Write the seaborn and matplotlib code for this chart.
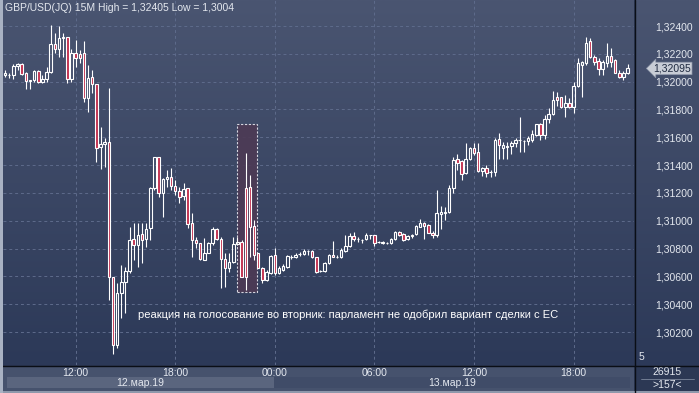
import numpy as np
import pandas as pd
import matplotlib
matplotlib.use('Agg')
import matplotlib.pyplot as plt
from matplotlib import ticker, colors, patches, lines, transforms
import seaborn as sns

title = 'GBP/USD(JQ) 15M High = 1,32405 Low = 1,3004'
note = 'реакция на голосование во вторник: парламент не одобрил вариант сделки с ЕС'
start_time = '2019-03-12 07:45'
tick_hours = [0, 6, 12, 18]
day_labels = ['12.мар.19', '13.мар.19']
price_ticks = [1.302, 1.304, 1.306, 1.308, 1.310, 1.312, 1.314, 1.316, 1.318, 1.320, 1.322, 1.324]
last_price = 1.32095
volume_text = '26915'
bars_text = '>157<'
corner_text = '5'
# vote reaction box: candle span and price span
box_candles = (55.9, 60.7)
box_prices = (1.30488, 1.31695)
note_pos = (32, 1.30322)

opens = [1.32048, 1.32048, 1.32048, 1.32113, 1.32127, 1.32062, 1.32005, 1.32012, 1.32077, 1.31997,
         1.32019, 1.32069, 1.32271, 1.32235, 1.32314, 1.32321, 1.32019, 1.32206, 1.32199, 1.32206,
         1.31882, 1.32033, 1.31983, 1.31530, 1.31552, 1.31566, 1.30595, 1.30106, 1.30480, 1.30559,
         1.30638, 1.30869, 1.30825, 1.30905, 1.30869, 1.30948, 1.31235, 1.31458, 1.31199, 1.31300,
         1.31314, 1.31250, 1.31214, 1.31178, 1.31235, 1.30984, 1.30861, 1.30840, 1.30718, 1.30768,
         1.30840, 1.30940, 1.30869, 1.30725, 1.30660, 1.30703, 1.30833, 1.30847, 1.31235, 1.31243,
         1.30962, 1.30768, 1.30660, 1.30574, 1.30624, 1.30754, 1.30624, 1.30646, 1.30667, 1.30739,
         1.30739, 1.30761, 1.30761, 1.30782, 1.30782, 1.30739, 1.30638, 1.30638, 1.30696, 1.30754,
         1.30739, 1.30739, 1.30782, 1.30818, 1.30890, 1.30869, 1.30861, 1.30869, 1.30897, 1.30897,
         1.30847, 1.30840, 1.30840, 1.30840, 1.30869, 1.30919, 1.30905, 1.30869, 1.30890, 1.30905,
         1.30955, 1.30984, 1.30969, 1.30912, 1.30897, 1.31048, 1.31056, 1.31063, 1.31235, 1.31444,
         1.31429, 1.31343, 1.31444, 1.31523, 1.31494, 1.31358, 1.31379, 1.31350, 1.31350, 1.31588,
         1.31523, 1.31530, 1.31537, 1.31559, 1.31580, 1.31573, 1.31573, 1.31580, 1.31616, 1.31695,
         1.31616, 1.31731, 1.31767, 1.31890, 1.31890, 1.31818, 1.31846, 1.31818, 1.31969, 1.32120,
         1.32134, 1.32292, 1.32177, 1.32148, 1.32091, 1.32134, 1.32184, 1.32156, 1.32062, 1.32033, 1.32062]

highs = [1.32084, 1.32062, 1.32127, 1.32134, 1.32134, 1.32069, 1.32012, 1.32084, 1.32084, 1.32048,
         1.32105, 1.32405, 1.32350, 1.32400, 1.32350, 1.32321, 1.32235, 1.32299, 1.32228, 1.32292,
         1.32120, 1.32084, 1.31983, 1.31674, 1.31595, 1.31954, 1.30595, 1.30552, 1.30682, 1.30667,
         1.30955, 1.30984, 1.30984, 1.30984, 1.30984, 1.31243, 1.31458, 1.31458, 1.31307, 1.31365,
         1.31379, 1.31293, 1.31243, 1.31271, 1.31235, 1.31056, 1.30883, 1.30840, 1.30876, 1.30847,
         1.30955, 1.30948, 1.30883, 1.30768, 1.30768, 1.30883, 1.30883, 1.30861, 1.31487, 1.31329,
         1.31005, 1.30768, 1.30667, 1.30646, 1.30754, 1.30804, 1.30675, 1.30689, 1.30754, 1.30754,
         1.30768, 1.30775, 1.30797, 1.30790, 1.30790, 1.30739, 1.30646, 1.30703, 1.30761, 1.30854,
         1.30754, 1.30804, 1.30897, 1.30912, 1.30919, 1.30883, 1.30869, 1.30912, 1.30897, 1.30897,
         1.30854, 1.30854, 1.30847, 1.30876, 1.30926, 1.30926, 1.30912, 1.30897, 1.30905, 1.30969,
         1.31012, 1.30991, 1.30976, 1.30926, 1.31221, 1.31106, 1.31099, 1.31257, 1.31458, 1.31480,
         1.31437, 1.31559, 1.31530, 1.31559, 1.31559, 1.31386, 1.31401, 1.31365, 1.31595, 1.31631,
         1.31566, 1.31566, 1.31573, 1.31595, 1.31746, 1.31580, 1.31609, 1.31652, 1.31695, 1.31703,
         1.31760, 1.31810, 1.31933, 1.31926, 1.31890, 1.31904, 1.31882, 1.31997, 1.32170, 1.32148,
         1.32321, 1.32314, 1.32192, 1.32170, 1.32156, 1.32278, 1.32242, 1.32163, 1.32084, 1.32077, 1.32127]

lows = [1.32033, 1.32026, 1.32019, 1.32084, 1.32048, 1.31947, 1.31947, 1.31997, 1.31990, 1.31990,
        1.31997, 1.32062, 1.32206, 1.32177, 1.32177, 1.31990, 1.31997, 1.32105, 1.32134, 1.31854,
        1.31782, 1.31918, 1.31422, 1.31372, 1.31386, 1.30430, 1.30040, 1.30085, 1.30301, 1.30337,
        1.30624, 1.30718, 1.30667, 1.30696, 1.30811, 1.30861, 1.31221, 1.31171, 1.31027, 1.31243,
        1.31221, 1.31185, 1.31127, 1.31149, 1.30948, 1.30739, 1.30804, 1.30718, 1.30718, 1.30768,
        1.30825, 1.30861, 1.30516, 1.30524, 1.30631, 1.30696, 1.30825, 1.30595, 1.30502, 1.30739,
        1.30718, 1.30660, 1.30552, 1.30567, 1.30617, 1.30610, 1.30617, 1.30638, 1.30660, 1.30725,
        1.30732, 1.30746, 1.30754, 1.30754, 1.30732, 1.30624, 1.30631, 1.30631, 1.30689, 1.30739,
        1.30732, 1.30732, 1.30775, 1.30811, 1.30854, 1.30847, 1.30840, 1.30861, 1.30869, 1.30818,
        1.30840, 1.30833, 1.30833, 1.30833, 1.30861, 1.30890, 1.30854, 1.30861, 1.30876, 1.30897,
        1.30955, 1.30869, 1.30912, 1.30876, 1.30883, 1.30940, 1.31005, 1.31056, 1.31199, 1.31365,
        1.31293, 1.31336, 1.31437, 1.31473, 1.31350, 1.31322, 1.31314, 1.31314, 1.31322, 1.31444,
        1.31444, 1.31444, 1.31480, 1.31530, 1.31494, 1.31494, 1.31544, 1.31566, 1.31609, 1.31580,
        1.31588, 1.31703, 1.31760, 1.31825, 1.31810, 1.31746, 1.31810, 1.31775, 1.31961, 1.31890,
        1.32120, 1.32170, 1.32120, 1.32048, 1.32048, 1.32105, 1.32105, 1.32062, 1.32026, 1.32012, 1.32055]

closes = [1.32062, 1.32048, 1.32113, 1.32127, 1.32055, 1.32005, 1.32012, 1.32077, 1.31997, 1.32019,
          1.32069, 1.32271, 1.32235, 1.32314, 1.32321, 1.32019, 1.32206, 1.32170, 1.32170, 1.31882,
          1.32026, 1.31983, 1.31523, 1.31552, 1.31566, 1.30595, 1.30106, 1.30480, 1.30559, 1.30638,
          1.30861, 1.30825, 1.30897, 1.30861, 1.30940, 1.31235, 1.31458, 1.31199, 1.31300, 1.31314,
          1.31250, 1.31214, 1.31171, 1.31228, 1.30976, 1.30861, 1.30840, 1.30725, 1.30768, 1.30840,
          1.30940, 1.30869, 1.30725, 1.30660, 1.30703, 1.30833, 1.30847, 1.30595, 1.30595, 1.30955,
          1.30754, 1.30660, 1.30574, 1.30631, 1.30746, 1.30624, 1.30660, 1.30675, 1.30746, 1.30739,
          1.30754, 1.30761, 1.30782, 1.30782, 1.30739, 1.30631, 1.30638, 1.30696, 1.30754, 1.30739,
          1.30739, 1.30790, 1.30818, 1.30890, 1.30869, 1.30869, 1.30861, 1.30897, 1.30897, 1.30840,
          1.30847, 1.30847, 1.30840, 1.30869, 1.30919, 1.30897, 1.30861, 1.30890, 1.30897, 1.30962,
          1.30984, 1.30962, 1.30912, 1.30897, 1.31056, 1.31063, 1.31063, 1.31235, 1.31437, 1.31415,
          1.31336, 1.31444, 1.31523, 1.31487, 1.31358, 1.31379, 1.31343, 1.31350, 1.31580, 1.31544,
          1.31544, 1.31537, 1.31559, 1.31580, 1.31580, 1.31573, 1.31595, 1.31624, 1.31695, 1.31616,
          1.31731, 1.31767, 1.31868, 1.31868, 1.31818, 1.31846, 1.31818, 1.31969, 1.32134, 1.32141,
          1.32278, 1.32177, 1.32141, 1.32091, 1.32141, 1.32184, 1.32141, 1.32062, 1.32033, 1.32062, 1.32095]


def fmt(v, pos=None):
    return f'{v:.5f}'.replace('.', ',')


sns.set_theme(style='dark')
plt.rcParams['font.family'] = ['Liberation Sans', 'DejaVu Sans']

W, H = 699, 393
txt = '#e4e8ef'
up_edge = 'white'
down_fill = '#c2304f'

df = pd.DataFrame({'open': opens, 'high': highs, 'low': lows, 'close': closes})
df['time'] = pd.date_range(start_time, periods=len(df), freq='15min')
df['up'] = df['close'] >= df['open']
df['top'] = df[['open', 'close']].max(axis=1)
df['bot'] = df[['open', 'close']].min(axis=1)
x = np.arange(len(df))

fig = plt.figure(figsize=(W / 100, H / 100), dpi=100)
fig.patch.set_facecolor('#2c3854')

ax = fig.add_axes([3 / W, 1 - 365 / H, 631 / W, 365 / H], zorder=2)
side = fig.add_axes([635 / W, 1 - 365 / H, 64 / W, 365 / H], zorder=1)

bg = colors.LinearSegmentedColormap.from_list('bg', ['#2c3958', '#4a5571'])
grad = np.linspace(0, 1, 256)[:, None]
for a in (ax, side):
    a.imshow(grad, cmap=bg, aspect='auto', extent=[0, 1, 0, 1], origin='lower',
             transform=a.transAxes, zorder=0)
side.set_axis_off()

# candles
ax.vlines(x, df['top'], df['high'], color=up_edge, lw=0.8, zorder=3)
ax.vlines(x, df['low'], df['bot'], color=up_edge, lw=0.8, zorder=3)
u = df['up'].values
ax.bar(x[u], (df['top'] - df['bot'])[u], bottom=df['bot'][u], width=0.6,
       facecolor='none', edgecolor=up_edge, lw=0.8, zorder=4)
ax.bar(x[~u], (df['top'] - df['bot'])[~u], bottom=df['bot'][~u], width=0.6,
       facecolor=down_fill, edgecolor=up_edge, lw=0.8, zorder=4)

# highlighted vote reaction
ax.add_patch(patches.Rectangle((box_candles[0], box_prices[0]), box_candles[1] - box_candles[0],
                               box_prices[1] - box_prices[0], fc='#4d3a55', ec='#e6e6ee',
                               ls=(0, (2, 1.5)), lw=0.8, alpha=0.9, zorder=1.5))
ax.text(note_pos[0], note_pos[1], note, color='white', fontsize=8, va='center', ha='left', zorder=5)

ax.set_xlim(-0.5, 151.55)
ax.set_ylim(1.29963, 1.32587)

tick_idx = df.index[(df['time'].dt.minute == 0) & df['time'].dt.hour.isin(tick_hours)]
ax.set_xticks(tick_idx)
ax.set_xticklabels(df['time'][tick_idx].dt.strftime('%H:%M'))
ax.set_yticks(price_ticks)
ax.yaxis.set_major_formatter(ticker.FuncFormatter(fmt))
ax.yaxis.set_ticks_position('right')
ax.tick_params(axis='y', length=0, pad=15, labelsize=7.5, labelcolor=txt,
               labelright=True, labelleft=False)
ax.tick_params(axis='x', length=0, pad=2, labelsize=7.5, labelcolor=txt)
ax.grid(True, color='#5e6b8b', ls=(0, (3, 3)), lw=0.7)
ax.set_axisbelow(True)
for s in ax.spines.values():
    s.set_visible(False)

# current price marker
ax.annotate(fmt(last_price), xy=(1, last_price), xycoords=('axes fraction', 'data'),
            xytext=(19, 0), textcoords='offset pixels', ha='left', va='center',
            fontsize=7.5, color='#1f2a40', annotation_clip=False,
            bbox=dict(boxstyle='larrow,pad=0.12', fc='#c8cdd6', ec='#8c95a8', lw=0.5))

# bottom time band
fig.add_artist(patches.Rectangle((0, 0), 634 / W, 27 / H, transform=fig.transFigure,
                                 fc='#46526d', ec='none', zorder=0))
fig.add_artist(patches.Rectangle((0, 0), 1, 2 / H, transform=fig.transFigure,
                                 fc='#8e98ab', ec='none', zorder=0.5))
blend = transforms.blended_transform_factory(ax.transData, fig.transFigure)
midnight = df.index[(df['time'].dt.hour == 0) & (df['time'].dt.minute == 0)][0]
bounds = [0.5, midnight - 0.25, len(df) - 0.5]
strip_cols = ['#5a657e', '#404c68']
for k, lab in enumerate(day_labels):
    ax.add_patch(patches.Rectangle((bounds[k], 1 - 388 / H), bounds[k + 1] - bounds[k], 11 / H,
                                   transform=blend, fc=strip_cols[k], ec='none', clip_on=False, zorder=1))
    ax.text((bounds[k] + bounds[k + 1]) / 2, 1 - 382.5 / H, lab, transform=blend, ha='center',
            va='center', fontsize=7.5, color=txt, clip_on=False)

# right bottom box
fig.text(667 / W, 1 - 372 / H, volume_text, ha='center', va='center', fontsize=7.5, color=txt)
fig.add_artist(lines.Line2D([641 / W, 694 / W], [1 - 378.5 / H] * 2, color='#7d879c', lw=0.6))
fig.text(667 / W, 1 - 385 / H, bars_text, ha='center', va='center', fontsize=7.5, color=txt)
fig.text(641 / W, 1 - 357 / H, corner_text, ha='center', va='center', fontsize=7.5, color=txt, zorder=5)

# separators and frame
fig.add_artist(lines.Line2D([634.5 / W] * 2, [0, 1], color='#0a0e16', lw=1, zorder=6))
fig.add_artist(lines.Line2D([0, 1], [1 - 365.5 / H] * 2, color='#0a0e16', lw=1, zorder=6))
fig.add_artist(patches.Rectangle((0, 0), 2.5 / W, 1, transform=fig.transFigure,
                                 fc='#a9b2c3', ec='none', zorder=6))

fig.text(5 / W, 1 - 8 / H, title, ha='left', va='center', fontsize=7.5, color=txt, zorder=6)

fig.savefig('out.png', dpi=100, facecolor=fig.get_facecolor())
